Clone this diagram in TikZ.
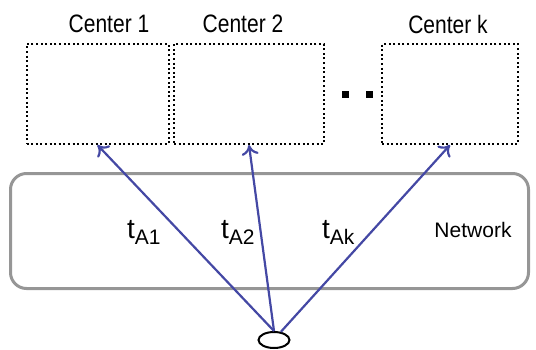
\documentclass[tikz,border=0pt]{standalone}
\usepackage{fontspec}
\setmainfont{Liberation Sans}
\usetikzlibrary{positioning, shapes.geometric, arrows.meta}

\definecolor{linkblue}{RGB}{68,72,164}
\definecolor{netgray}{RGB}{150,150,150}

\newcommand{\tsub}[1]{{\fontsize{28}{30}\selectfont t}\raisebox{-6pt}{#1}}
\newcommand{\talltext}[1]{\scalebox{1}[1.2]{#1}}

\begin{document}
\begin{tikzpicture}[x=1pt,y=-1pt]
\tikzset{
  centerbox/.style={draw=black, line width=2pt, dash pattern=on 2pt off 2.6pt,
    minimum height=100pt, inner sep=0pt},
  lbl/.style={font=\fontsize{21}{24}\selectfont, inner sep=0pt},
  link/.style={draw=linkblue, line width=2.2pt, -{To[length=10pt,width=17pt,line width=2.2pt]}}
}
\useasboundingbox (0,0) rectangle (536,349);

\node[centerbox, minimum width=142pt] (c1) at (97.5,94) {};
\node[centerbox, minimum width=150pt] (c2) at (249,94) {};
\node[centerbox, minimum width=136pt] (ck) at (450,94) {};

\node[lbl] (l1) at (109,24) {\talltext{Center 1}};
\node[lbl] (l2) at (243,24) {\talltext{Center 2}};
\node[lbl] (lk) at (448,24) {\talltext{Center k}};

\fill (341.5,90.5) rectangle +(7,7);
\fill (365.5,90.5) rectangle +(7,7);

\node[draw=netgray, line width=3pt, rounded corners=16pt, minimum width=518pt,
  minimum height=115pt, inner sep=0pt] (net) at (269.5,231) {};
\node[lbl] (nlbl) at (473,230) {Network};

\node[draw=black, line width=2pt, ellipse, minimum width=31pt, minimum height=16pt,
  inner sep=0pt] (src) at (274,340) {};

\draw[link] (src.north) -- (c1.south);
\draw[link] (src.north) -- (c2.south);
\draw[link] (src.50) -- (ck.south);

\node[lbl, anchor=base west] (t1) at (127,238) {\tsub{A1}};
\node[lbl, anchor=base west] (t2) at (221,238) {\tsub{A2}};
\node[lbl, anchor=base west] (tk) at (322,238) {\tsub{Ak}};
\end{tikzpicture}
\end{document}
